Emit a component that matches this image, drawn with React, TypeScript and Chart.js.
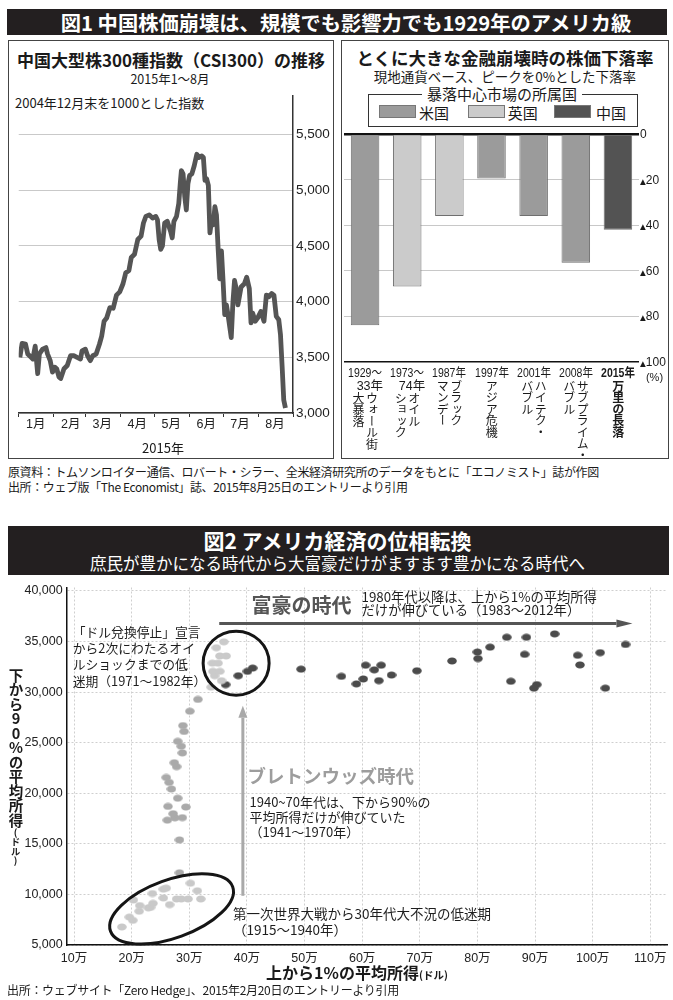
import React, { useEffect, useRef, useState } from "react";
import { Chart, registerables } from "chart.js";
Chart.register(...registerables);

// ---------------- 図1 左: CSI300 ----------------
const csiDays = [1,3,6,8,11,12.5,14.6,16.8,18.3,21.2,24.1,25.5,27.9,29.9,32,33.7,35.7,37.2,40.1,43,45.9,48.8,51.7,54.7,56.1,59,61,63.4,65.6,68.6,71.5,73.5,75.6,77.9,80.8,83.7,86.6,89.5,92.4,94.8,97.6,99.7,102.6,105.5,108.4,110.5,112.7,115.7,118.6,121.4,122.9,124.4,125.8,127.3,129.3,131.6,134.5,136,137.5,139.8,141.8,143.2,144.1,145.6,147.1,148.5,149.9,151.4,153.4,155.5,157.8,159.5,162.2,163.6,165,166.5,168,169.4,170.9,172.4,173.8,175.2,176.7,178.1,179.6,181.1,182.5,184,185.4,188.3,189.8,191.2,192.7,194.2,197,199.9,202,204.3,205.8,207.3,209.5,211.6,214.5,217.3,219.4,221.7,224.1,226.1,228.2,230.4,231.9,233.4,234.8,236.3];
const csiValues = [3500,3625,3618,3530,3500,3485,3600,3353,3530,3573,3587,3530,3470,3367,3411,3397,3323,3309,3397,3426,3514,3514,3499,3485,3558,3573,3514,3470,3514,3529,3617,3690,3823,3852,3946,3940,4058,4087,4160,4257,4279,4396,4425,4557,4587,4705,4764,4778,4749,4764,4734,4557,4469,4499,4705,4720,4631,4572,4720,4764,4881,5072,5175,5146,4940,4822,5057,5131,5146,5219,5322,5293,5307,5293,5087,5101,5043,4617,4734,4690,4852,4778,4469,4205,4455,4175,3882,3970,3882,3676,4000,4190,4116,3970,4131,4160,4219,4116,3808,3896,3823,3852,3911,3823,4058,4043,4072,4058,3867,3837,3705,3411,3117,3044];
const monthLabels = ["1月","2月","3月","4月","5月","6月","7月","8月"];
const monthStarts = [0,31,59,90,120,151,181,212,243];
const csiTicks = [3000,3500,4000,4500,5000,5500];

// ---------------- 図1 右: 下落率 ----------------
const crashYears = ["1929～","1973～","1987年","1997年","2001年","2008年","2015年"];
const crashYears2 = ["33年","74年","","","","",""];
const crashNames = [["ウォール街","大暴落"],["オイル","ショック"],["ブラック","マンデー"],["アジア危機"],["ハイテク・","バブル"],["サブプライム・","バブル"],["万里の長落"]];
const crashDrops = [-84,-67,-36,-19.5,-36,-56.5,-42];
const crashCountry = ["米国","英国","英国","米国","米国","米国","中国"];
const countries = ["米国","英国","中国"];
const dropTicks = [0,-20,-40,-60,-80,-100];

// ---------------- 図2: 散布図 (x: 万ドル, y: ドル) ----------------
const era1915X = [18.3,20.2,19.6,21.3,21.4,22.9,23.3,23.7,20.3,23.6,25.5,26.0,26.6,25.5,27.8,28.6,29.8,32.0,31.4,30.2];
const era1915Y = [6780,7440,7760,8340,8900,8670,8730,9120,9450,10090,10520,10620,8990,9650,9550,9550,9550,9550,10360,11110];
const era1941X = [28.3,28.3,26.2,27.5,28.8,27.2,26.3,29.4,28.0,26.9,26.5,26.0,27.8,27.4,28.8,28.6,28.0,29.1,28.9,30.1,31.5];
const era1941Y = [12140,15390,17340,17570,17590,17980,18700,18640,19510,20420,21070,21560,22630,23020,23990,24650,25130,26110,26690,28110,29280];
const era1971X = [33.8,35.6,34.4,34.1,35.3,35.0,34.0,35.3,36.4,34.7,36.0];
const era1971Y = [30490,31130,31620,32050,32050,32860,32860,33570,33570,34390,34970];
const era1983X = [36.3,38.5,40.1,41.0,49.4,56.4,59.0,60.2,60.6,62.1,63.3,62.9,65.1,69.5,75.6,80.0,80.1,82.2,85.1,88.5,88.2,85.8,90.3,89.8,93.4,97.4,97.8,101.3,102.2,105.7];
const era1983Y = [30740,31620,32050,32370,32270,31560,30810,31300,32660,32200,32660,31130,31690,32110,33080,33960,33310,34440,35420,35420,33730,31070,30740,30390,35750,33640,32690,33900,30390,34710];
const incomeXTicks = [10,20,30,40,50,60,70,80,90,100,110];
const incomeYTicks = [5000,10000,15000,20000,25000,30000,35000,40000];

// ---- styles / layout (not data) ----
const JP = "'Noto Sans CJK JP', 'Noto Sans', sans-serif";
const NUM = "'Liberation Sans Narrow', 'Liberation Sans', 'Noto Sans CJK JP', sans-serif";
const countryColors: Record<string, string> = { 米国: "#9b9b9b", 英国: "#cbcbcb", 中国: "#535353" };
const eraColors = ["#c9c9c9", "#aaaaaa", "#cacaca", "#4b4b4b"];
const BAR_LEFT = 342, BAR_TOP = 128;

// annotation anchors for 図2 (data units)
const ANN = {
  richTitle: { x: 40.8, y: 38570, text: "富豪の時代" },
  richText: { x: 59.9, y: [39375, 38080], lines: ["1980年代以降は、上から1%の平均所得", "だけが伸びている（1983～2012年）"] },
  richArrow: { x1: 35.2, x2: 106.9, y: 36790 },
  oilText: { x: 9.77, y: [35970, 34355, 32730, 31105], lines: ["「ドル兌換停止」宣言", "から2次にわたるオイ", "ルショックまでの低", "迷期（1971～1982年）"] },
  oilCircle: { x: 38.13, y: 32860, rx: 33, ry: 32 },
  bwArrow: { x: 39.3, y1: 9865, y2: 28645 },
  bwTitle: { x: 40.1, y: 21735, text: "ブレトンウッズ時代" },
  bwText: { x: 40.45, y: [19110, 17650, 16190], lines: ["1940~70年代は、下から90%の", "平均所得だけが伸びていた", "（1941～1970年）"] },
  wwText: { x: 37.6, y: [8085, 6530], lines: ["第一次世界大戦から30年代大不況の低迷期", "（1915～1940年）"] },
  wwEllipse: { x: 26.93, y: 8570, rx: 65, ry: 29, rot: -20 },
};

function makeDot(color: string) {
  const c = document.createElement("canvas");
  c.width = 10; c.height = 8;
  const g = c.getContext("2d")!;
  g.fillStyle = color;
  g.beginPath();
  g.ellipse(5, 4, 4.8, 3.5, 0, 0, Math.PI * 2);
  g.fill();
  return c;
}

const fig2Annotations = {
  id: "fig2Annotations",
  afterDatasetsDraw(chart: any) {
    const { ctx } = chart;
    const sx = chart.scales.x, sy = chart.scales.y;
    const px = (v: number) => sx.getPixelForValue(v);
    const py = (v: number) => sy.getPixelForValue(v);
    ctx.save();
    const arrow = (x1: number, y1: number, x2: number, y2: number, color: string, w: number, head: number, half: number) => {
      const a = Math.atan2(y2 - y1, x2 - x1);
      const bx = x2 - Math.cos(a) * head, by = y2 - Math.sin(a) * head;
      ctx.strokeStyle = color; ctx.fillStyle = color; ctx.lineWidth = w;
      ctx.beginPath(); ctx.moveTo(x1, y1); ctx.lineTo(bx, by); ctx.stroke();
      ctx.beginPath(); ctx.moveTo(x2, y2);
      ctx.lineTo(bx - Math.sin(a) * half, by + Math.cos(a) * half);
      ctx.lineTo(bx + Math.sin(a) * half, by - Math.cos(a) * half);
      ctx.closePath(); ctx.fill();
    };
    const E = ANN.wwEllipse;
    ctx.strokeStyle = "#151515"; ctx.lineWidth = 3;
    ctx.beginPath(); ctx.ellipse(px(E.x), py(E.y), E.rx, E.ry, (E.rot * Math.PI) / 180, 0, Math.PI * 2); ctx.stroke();
    const C = ANN.oilCircle;
    ctx.beginPath(); ctx.ellipse(px(C.x), py(C.y), C.rx, C.ry, 0, 0, Math.PI * 2); ctx.stroke();
    arrow(px(ANN.richArrow.x1), py(ANN.richArrow.y), px(ANN.richArrow.x2), py(ANN.richArrow.y), "#555", 3, 16, 4);
    arrow(px(ANN.bwArrow.x), py(ANN.bwArrow.y1), px(ANN.bwArrow.x), py(ANN.bwArrow.y2), "#a9a9a9", 3, 12, 4.5);
    ctx.textAlign = "left"; ctx.textBaseline = "middle";
    ctx.fillStyle = "#555"; ctx.font = `bold 20px ${JP}`;
    ctx.fillText(ANN.richTitle.text, px(ANN.richTitle.x), py(ANN.richTitle.y));
    ctx.fillStyle = "#9d9d9d"; ctx.font = `bold 18.5px ${JP}`;
    ctx.fillText(ANN.bwTitle.text, px(ANN.bwTitle.x), py(ANN.bwTitle.y));
    const block = (b: { x: number; y: number[]; lines: string[] }, size: number) => {
      ctx.fillStyle = "#1e1e1e"; ctx.font = `${size}px ${JP}`;
      b.lines.forEach((l, i) => ctx.fillText(l, px(b.x), py(b.y[i])));
    };
    block(ANN.richText, 13.3);
    block(ANN.oilText, 12.8);
    block(ANN.bwText, 13);
    block(ANN.wwText, 13.5);
    ctx.restore();
  },
};

const T: React.FC<{ x: number; y: number; c?: boolean; s: React.CSSProperties; children: React.ReactNode }> = ({ x, y, c, s, children }) => (
  <div style={{ position: "absolute", left: x, top: y, transform: c ? "translate(-50%,-50%)" : "translateY(-50%)", whiteSpace: "nowrap", lineHeight: 1, fontFamily: JP, color: "#1a1a1a", ...s }}>{children}</div>
);

export default function App() {
  const lineRef = useRef<HTMLCanvasElement>(null);
  const barRef = useRef<HTMLCanvasElement>(null);
  const scatRef = useRef<HTMLCanvasElement>(null);
  const [catX, setCatX] = useState<number[]>([]);
  const [dropY, setDropY] = useState<number[]>([]);

  useEffect(() => {
    const charts: Chart[] = [];
    charts.push(new Chart(lineRef.current!, {
      type: "line",
      data: { datasets: [{ data: csiDays.map((d, i) => ({ x: d, y: csiValues[i] })), borderColor: "#555", borderWidth: 4.8, pointRadius: 0, tension: 0, borderJoinStyle: "round" }] },
      options: {
        animation: false, responsive: false, maintainAspectRatio: false,
        layout: { padding: { left: 4, top: 8, right: 0, bottom: 0 } },
        plugins: { legend: { display: false }, tooltip: { enabled: false } },
        scales: {
          x: {
            type: "linear", min: 0, max: 243,
            afterBuildTicks: (s: any) => { s.ticks = monthStarts.map((v) => ({ value: v })); },
            afterFit: (s: any) => { s.height = 44; },
            grid: { drawOnChartArea: false, drawTicks: true, tickLength: 4, color: "#333" },
            border: { color: "#333", width: 1.5 },
            ticks: { callback: (_v: any, i: number) => monthLabels[i] ?? "", labelOffset: 17, padding: 0, autoSkip: false, maxRotation: 0, font: { size: 12.5, family: NUM }, color: "#222" },
          },
          y: {
            position: "right", min: 3000, max: 5844,
            afterBuildTicks: (s: any) => { s.ticks = csiTicks.map((v) => ({ value: v })); },
            afterFit: (s: any) => { s.width = 40; },
            grid: { color: "#c9c9c9", drawTicks: false },
            border: { color: "#333", width: 1.5 },
            ticks: { padding: 3, callback: (v: any) => Number(v).toLocaleString("en-US"), font: { size: 13.5, family: NUM }, color: "#222" },
          },
        },
      },
    } as any));

    const bar = new Chart(barRef.current!, {
      type: "bar",
      data: { labels: crashYears, datasets: [{ data: crashDrops, backgroundColor: crashCountry.map((c) => countryColors[c]), borderColor: "#6f6f6f", borderWidth: 1, barPercentage: 0.677, categoryPercentage: 1 }] },
      options: {
        animation: false, responsive: false, maintainAspectRatio: false,
        layout: { padding: { left: 2, top: 6, right: 0, bottom: 0 } },
        plugins: { legend: { display: false }, tooltip: { enabled: false } },
        scales: {
          x: { ticks: { display: false }, grid: { display: false }, border: { display: false }, afterFit: (s: any) => { s.height = 16.3; } },
          y: {
            position: "right", min: -100, max: 0,
            afterBuildTicks: (s: any) => { s.ticks = dropTicks.map((v) => ({ value: v })); },
            afterFit: (s: any) => { s.width = 29; },
            grid: {
              color: (c: any) => (c.tick && (c.tick.value === 0 || c.tick.value === -100) ? "#111" : "#c8c8c8"),
              lineWidth: (c: any) => (c.tick && c.tick.value === 0 ? 2.5 : c.tick && c.tick.value === -100 ? 1.5 : 1),
              drawTicks: false,
            },
            border: { display: false },
            ticks: { display: false },
          },
        },
      },
    } as any);
    charts.push(bar);
    setCatX(crashYears.map((_, i) => bar.scales.x.getPixelForValue(i) + BAR_LEFT));
    setDropY(dropTicks.map((v) => (bar.scales as any).y.getPixelForValue(v) + BAR_TOP));

    const eras = [[era1915X, era1915Y], [era1941X, era1941Y], [era1971X, era1971Y], [era1983X, era1983Y]];
    const names = ["1915～1940年", "1941～1970年", "1971～1982年", "1983～2012年"];
    charts.push(new Chart(scatRef.current!, {
      type: "scatter",
      data: {
        datasets: eras.map(([xs, ys], k) => ({
          label: names[k],
          data: xs.map((x, i) => ({ x, y: ys[i] })),
          pointStyle: makeDot(eraColors[k]), pointRadius: 5,
        })),
      },
      options: {
        animation: false, responsive: false, maintainAspectRatio: false,
        layout: { padding: { left: 0, top: 5.7, right: 5, bottom: 0 } },
        plugins: { legend: { display: false }, tooltip: { enabled: false } },
        scales: {
          x: {
            type: "linear", min: 8.73, max: 112.9,
            afterBuildTicks: (s: any) => { s.ticks = incomeXTicks.map((v) => ({ value: v })); },
            afterFit: (s: any) => { s.height = 55; },
            grid: { color: "#cfcfcf", drawTicks: false },
            border: { color: "#111", width: 1.5, dash: [2, 2] },
            ticks: { padding: 6, callback: (v: any) => v + "万", font: { size: 12.5, family: NUM }, color: "#222" },
          },
          y: {
            min: 5000, max: 40340,
            afterBuildTicks: (s: any) => { s.ticks = incomeYTicks.map((v) => ({ value: v })); },
            afterFit: (s: any) => { s.width = 66.7; },
            grid: { color: "#cfcfcf", drawTicks: false },
            border: { color: "#111", width: 1.5, dash: [2, 2] },
            ticks: { padding: 4, callback: (v: any) => Number(v).toLocaleString("en-US"), font: { size: 12.5, family: NUM }, color: "#222" },
          },
        },
      },
      plugins: [fig2Annotations],
    } as any));

    return () => charts.forEach((c) => c.destroy());
  }, []);

  const box: React.CSSProperties = { position: "absolute", border: "1px solid #444", boxSizing: "border-box", background: "#fff" };
  const swatchX = [379, 467.7, 554];
  const labelX = [419, 507.7, 596];
  const narrow = "scaleX(0.84)";

  return (
    <div style={{ position: "absolute", left: 0, top: 0, width: 673, height: 1000, background: "#fff", overflow: "hidden", fontFamily: JP }}>
      <div style={{ position: "absolute", left: 7, top: 9, width: 660, height: 26, background: "#231f20" }} />
      <T x={346} y={22} c s={{ color: "#fff", fontWeight: 700, fontSize: 20.3 }}>図1 中国株価崩壊は、規模でも影響力でも1929年のアメリカ級</T>

      <div style={{ ...box, left: 8, top: 40, width: 326, height: 419 }} />
      <T x={171} y={58.5} c s={{ fontWeight: 700, fontSize: 17 }}>中国大型株300種指数（CSI300）の推移</T>
      <T x={170} y={79} c s={{ fontSize: 12.5 }}>2015年1～8月</T>
      <T x={15} y={101.7} s={{ fontSize: 13 }}>2004年12月末を1000とした指数</T>
      <canvas ref={lineRef} width={324} height={372} style={{ position: "absolute", left: 9, top: 85 }} />
      <T x={163} y={446.7} c s={{ fontSize: 13 }}>2015年</T>

      <div style={{ ...box, left: 341, top: 40, width: 328, height: 419 }} />
      <T x={505} y={58.3} c s={{ fontWeight: 700, fontSize: 17.5 }}>とくに大きな金融崩壊時の株価下落率</T>
      <T x={505} y={76.7} c s={{ fontSize: 13.5 }}>現地通貨ベース、ピークを0%とした下落率</T>
      <div style={{ position: "absolute", left: 367.7, top: 93.5, width: 270, height: 33, border: "1.5px solid #333", boxSizing: "border-box" }} />
      <T x={502} y={92.7} c s={{ fontSize: 15, background: "#fff", padding: "0 5px" }}>暴落中心市場の所属国</T>
      {countries.map((c, i) => (
        <React.Fragment key={c}>
          <div style={{ position: "absolute", left: swatchX[i], top: 105, width: 37, height: 13, background: countryColors[c], border: "1px solid #777", boxSizing: "border-box" }} />
          <T x={labelX[i]} y={111.5} s={{ fontSize: 15 }}>{c}</T>
        </React.Fragment>
      ))}
      <canvas ref={barRef} width={326} height={250} style={{ position: "absolute", left: BAR_LEFT, top: BAR_TOP }} />
      {dropY.map((y, i) => (
        <T key={i} x={640} y={y} s={{ fontSize: 12, fontFamily: NUM }}>
          {dropTicks[i] === 0 ? "0" : (<><span style={{ fontSize: 7.5, fontFamily: "'DejaVu Sans', sans-serif" }}>▲</span>{-dropTicks[i]}</>)}
        </T>
      ))}
      {catX.map((cx, i) => (
        <React.Fragment key={i}>
          <T x={cx} y={372.7} c s={{ fontSize: 12.5, fontFamily: NUM, fontWeight: i === 6 ? 700 : 400, transform: `translate(-50%,-50%) ${narrow}` }}>{crashYears[i]}</T>
          {crashYears2[i] && <T x={cx + 18} y={386} s={{ fontSize: 12.5, fontFamily: NUM, transform: "translate(-100%,-50%)" }}>{crashYears2[i]}</T>}
          <div style={{ position: "absolute", left: cx, top: crashYears2[i] ? 392 : 380, transform: "translateX(-50%)", writingMode: "vertical-rl", fontSize: 12, letterSpacing: -0.5, lineHeight: "13.5px", whiteSpace: "nowrap", color: "#1a1a1a", fontWeight: i === 6 ? 700 : 400 }}>
            {crashNames[i].map((n, k) => (<React.Fragment key={k}>{k > 0 && <br />}{n}</React.Fragment>))}
          </div>
        </React.Fragment>
      ))}
      <T x={654.5} y={376.7} c s={{ fontSize: 11, fontFamily: NUM }}>(%)</T>

      <T x={8} y={472.3} s={{ fontSize: 12, letterSpacing: -0.4 }}>原資料：トムソンロイター通信、ロバート・シラー、全米経済研究所のデータをもとに「エコノミスト」誌が作図</T>
      <T x={8} y={486.7} s={{ fontSize: 12, letterSpacing: -0.4 }}>出所：ウェブ版「The Economist」誌、2015年8月25日のエントリーより引用</T>

      <div style={{ position: "absolute", left: 7.7, top: 526, width: 661.3, height: 49, background: "#231f20" }} />
      <T x={337.5} y={540} c s={{ color: "#fff", fontWeight: 700, fontSize: 21 }}>図2 アメリカ経済の位相転換</T>
      <T x={337.5} y={563.3} c s={{ color: "#fff", fontSize: 16.5 }}>庶民が豊かになる時代から大富豪だけがますます豊かになる時代へ</T>

      <canvas ref={scatRef} width={673} height={424} style={{ position: "absolute", left: 0, top: 576 }} />
      <div style={{ position: "absolute", left: 7.5, top: 668, writingMode: "vertical-rl", textOrientation: "upright", fontWeight: 700, fontSize: 14.5, lineHeight: "15px", color: "#1a1a1a", whiteSpace: "nowrap" }}>
        下から90%の平均所得<span style={{ fontSize: 9.5 }}>(ドル)</span>
      </div>
      <T x={357} y={971.7} c s={{ fontWeight: 700, fontSize: 16 }}>上から1%の平均所得<span style={{ fontSize: 10.5 }}>(ドル)</span></T>
      <T x={7} y={990} s={{ fontSize: 12, letterSpacing: -0.3 }}>出所：ウェブサイト「Zero Hedge」、2015年2月20日のエントリーより引用</T>
    </div>
  );
}
